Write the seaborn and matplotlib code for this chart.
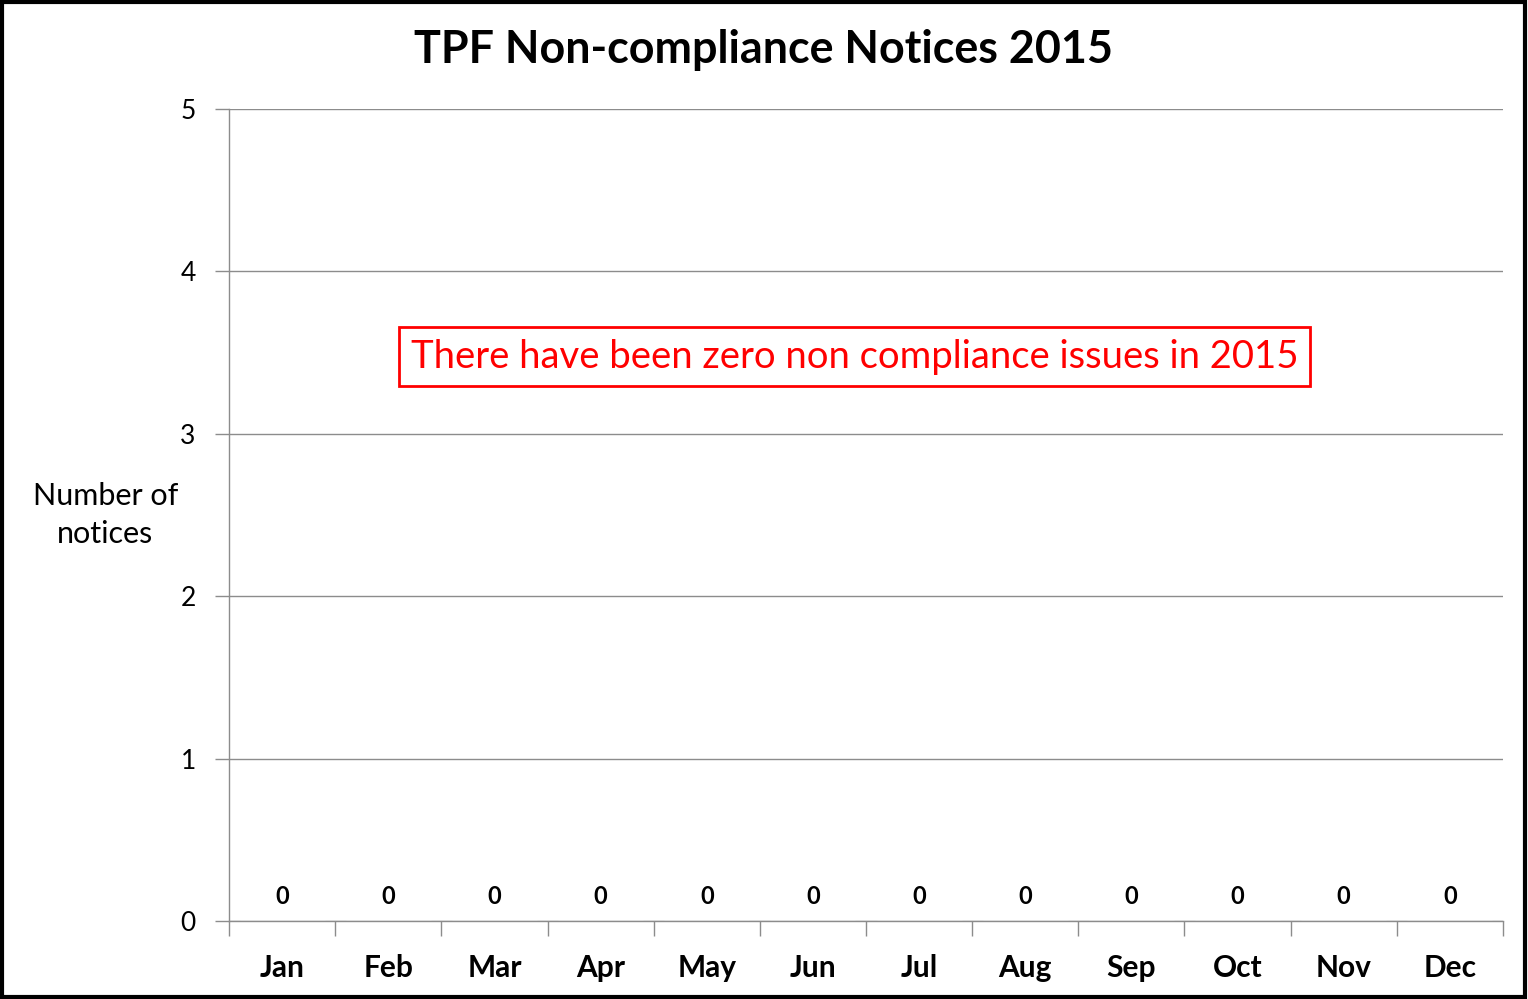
import matplotlib
matplotlib.use("Agg")
import matplotlib.pyplot as plt
import seaborn as sns
import pandas as pd
from matplotlib.patches import Rectangle

# data
months = ["Jan", "Feb", "Mar", "Apr", "May", "Jun",
          "Jul", "Aug", "Sep", "Oct", "Nov", "Dec"]
notices = [0, 0, 0, 0, 0, 0, 0, 0, 0, 0, 0, 0]

df = pd.DataFrame({"Month": months, "Notices": notices})

sns.set_theme(style="white")
plt.rcParams['font.family'] = ['Lato', 'DejaVu Sans']
plt.rcParams['text.color'] = 'black'
plt.rcParams['xtick.color'] = 'black'
plt.rcParams['ytick.color'] = 'black'
plt.rcParams['axes.labelcolor'] = 'black'

fig = plt.figure(figsize=(15.28, 9.99), dpi=100)
ax = fig.add_axes([0.1499, 0.0781, 0.8337, 0.8128])

sns.barplot(data=df, x="Month", y="Notices", color="#4f81bd", ax=ax)

# value labels
for i, v in enumerate(notices):
    ax.text(i, v + 0.08, str(v), ha="center", va="bottom",
            fontsize=17, fontweight="bold", color="black")

ax.set_ylim(0, 5)
ax.set_xlim(-0.5, len(months) - 0.5)
ax.set_yticks(range(0, 6))
ax.yaxis.grid(True, color="#8c8c8c", linewidth=1)
ax.set_axisbelow(True)

for side in ["top", "right"]:
    ax.spines[side].set_visible(False)
for side in ["left", "bottom"]:
    ax.spines[side].set_color("#8c8c8c")
    ax.spines[side].set_linewidth(1)

# category boundary ticks on x
ax.set_xticks([i - 0.5 for i in range(len(months) + 1)], minor=True)
ax.tick_params(axis="x", which="minor", length=11, color="#8c8c8c", width=1,
               bottom=True)
ax.tick_params(axis="x", which="major", length=0, pad=24)
ax.tick_params(axis="y", length=10, color="#8c8c8c", width=1, left=True,
               labelsize=19, pad=14)
for lab in ax.get_xticklabels():
    lab.set_fontsize(21.5)
    lab.set_fontweight("bold")

ax.set_xlabel("")
ax.set_ylabel("Number of\nnotices", rotation=0, fontsize=22,
              ha="center", va="center", linespacing=1.45)
ax.yaxis.set_label_coords(-0.097, 0.5)

fig.text(0.4994, 0.95, "TPF Non-compliance Notices 2015", ha="center",
         va="center", fontsize=32.3, fontweight="bold")

# note box
ax.text(0.491, 0.695, "There have been zero non compliance issues in 2015",
        transform=ax.transAxes, ha="center", va="center", fontsize=27.5,
        color="#ff0000",
        bbox=dict(boxstyle="square,pad=0.3", facecolor="white",
                  edgecolor="#ff0000", linewidth=2))

# outer border
fig.patches.append(Rectangle((0.001, 0.002), 0.997, 0.996,
                             transform=fig.transFigure, fill=False,
                             edgecolor="black", linewidth=3))

fig.savefig("out.png", dpi=100)
